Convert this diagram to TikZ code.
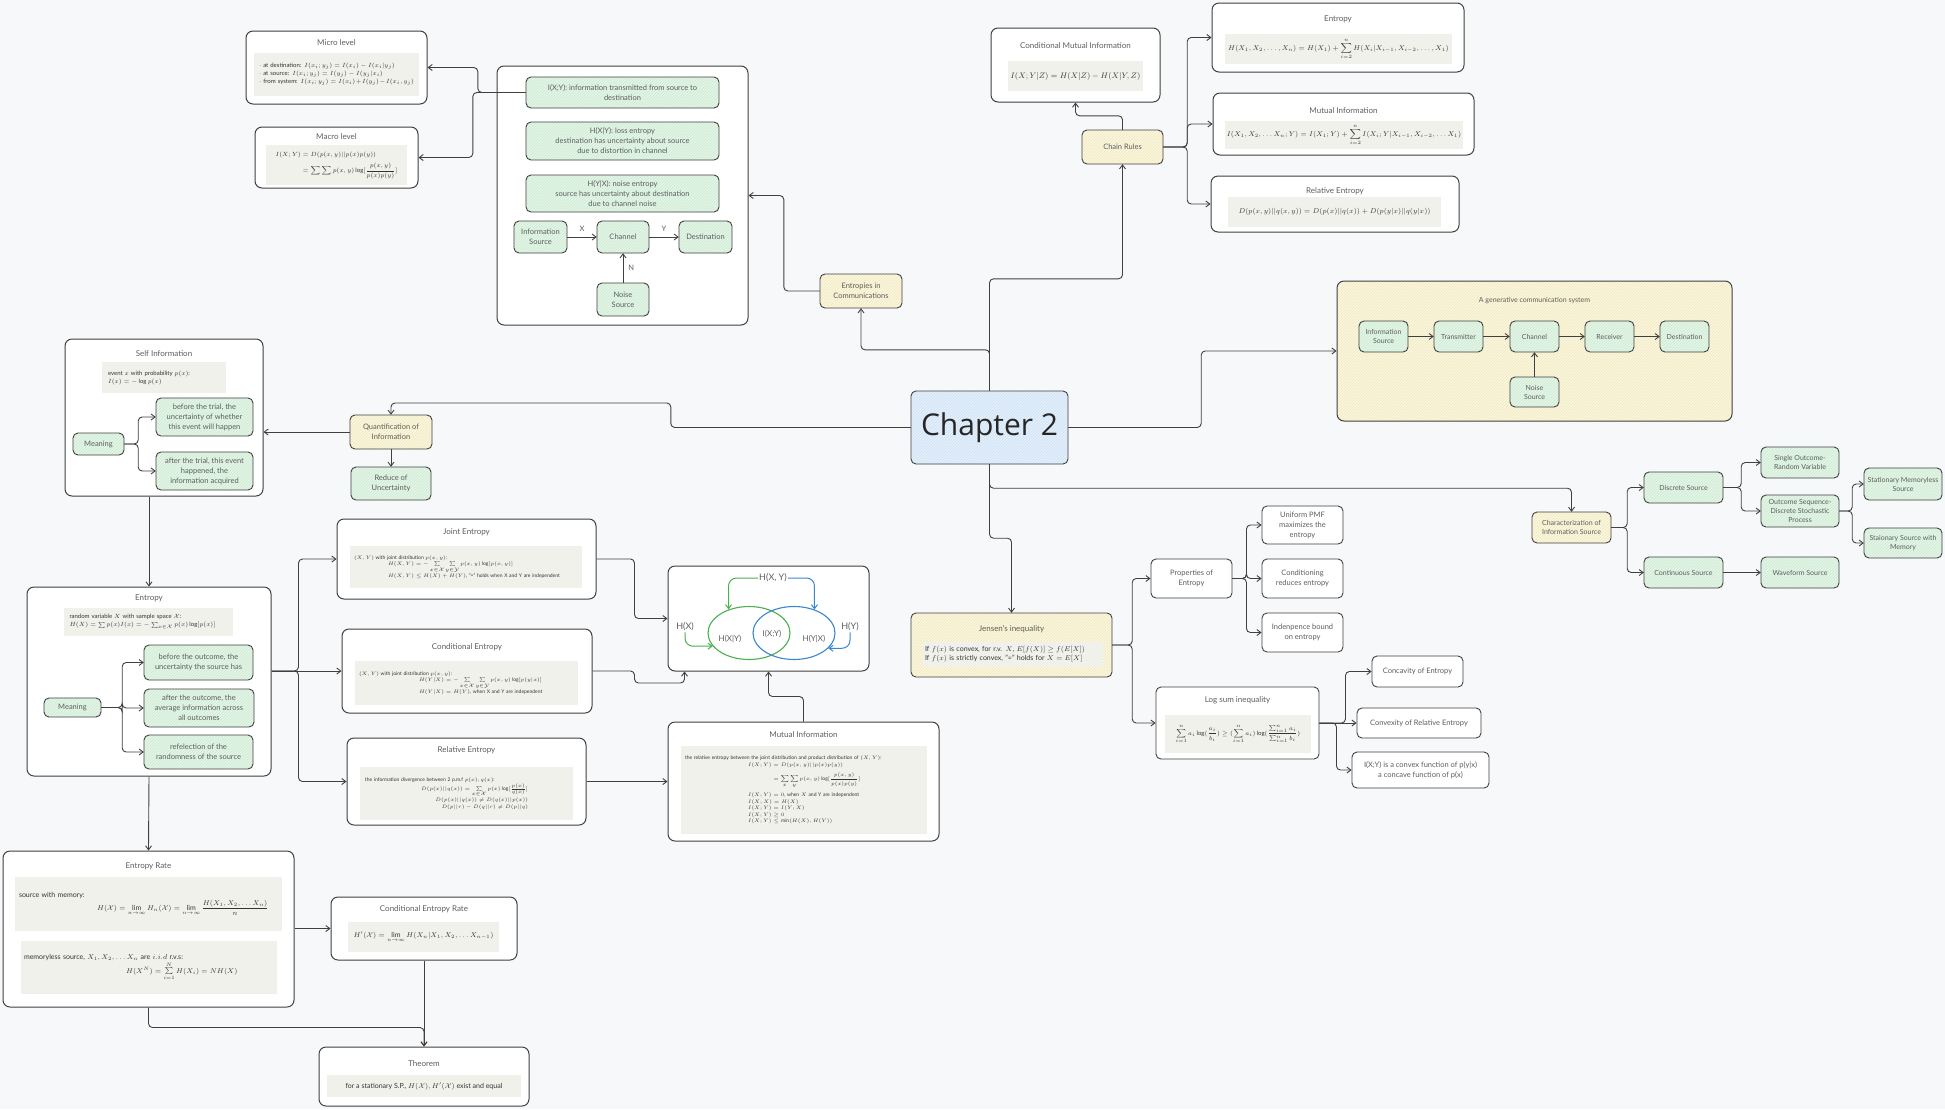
\documentclass[tikz,border=0pt]{standalone}
\usepackage{amsmath}
\usepackage{amssymb}
\usepackage{fontspec}
\setmainfont{Lato}
\newfontfamily\chapfont{Open Sans}
\usetikzlibrary{arrows.meta, patterns, shapes.geometric}

\definecolor{bgc}{HTML}{F7F8FA}
\definecolor{linec}{HTML}{404040}
\definecolor{textc}{HTML}{5E5E5E}
\definecolor{greenf}{HTML}{E4F5E7}
\definecolor{greenh}{HTML}{CBEAD0}
\definecolor{yellowf}{HTML}{FBF7E1}
\definecolor{yellowh}{HTML}{F0E6B8}
\definecolor{bluef}{HTML}{E4F0FB}
\definecolor{blueh}{HTML}{CCE1F6}
\definecolor{grayf}{HTML}{F1F1EC}
\definecolor{venng}{HTML}{4CAF50}
\definecolor{vennb}{HTML}{3A86D1}

\newcommand{\nodefont}{\fontsize{7.5}{10}\selectfont}
\newcommand{\smallnode}{\fontsize{7}{9}\selectfont}
\newcommand{\ttlfont}{\fontsize{8}{10}\selectfont}
\newcommand{\formfont}{\fontsize{6}{8}\selectfont}
\newcommand{\tinyfont}{\fontsize{5}{6.5}\selectfont}
\newcommand{\midfont}{\fontsize{7}{9}\selectfont}

\begin{document}
\begin{tikzpicture}[x=1pt, y=-1pt, >={Straight Barb[length=4pt, width=6pt]},
  sz/.style 2 args={minimum width=#1, minimum height=#2},
  nodebox/.style={rounded corners=5pt, text=textc, font=\nodefont, align=center, inner sep=1pt},
  outline/.style={postaction={draw=linec, line width=0.9pt}},
  leaf/.style={nodebox, fill=greenf, postaction={pattern=north east lines, pattern color=greenh}, outline},
  topic/.style={nodebox, fill=yellowf, postaction={pattern=north east lines, pattern color=yellowh}, outline},
  plain/.style={nodebox, draw=linec, line width=0.9pt, fill=white},
  panel/.style={draw=linec, line width=1pt, rounded corners=7pt, fill=white, inner sep=0pt},
  ttl/.style={text=textc, font=\ttlfont, inner sep=0pt},
  formula/.style={fill=grayf, text=black!80, font=\formfont, inner sep=0pt, align=left},
  elabel/.style={text=textc, font=\nodefont, inner sep=0pt},
  vlabel/.style={text=textc, font=\fontsize{9}{10}\selectfont, inner sep=1pt},
  conn/.style={->, draw=linec, line width=0.9pt, rounded corners=4pt}]

\fill[bgc] (0,0) rectangle (1945,1109);
\useasboundingbox (0,0) rectangle (1945,1109);

\node[panel, sz={181}{73}] (micro) at (336.5,67.5) {};
\node[ttl] (microttl) at (336.5,43) {Micro level};
\node[formula, sz={165}{43}, text width=155] (microf) at (336.5,74.5)
  {$\cdot$ at destination: $I(x_i;y_j)=I(x_i)-I(x_i|y_j)$\\
   $\cdot$ at source: $I(x_i;y_j)=I(y_j)-I(y_j|x_i)$\\
   $\cdot$ from system: $I(x_i;y_j)=I(x_i)+I(y_j)-I(x_i,y_j)$};
\node[panel, sz={163}{61}] (macro) at (336.5,157.5) {};
\node[ttl] (macrottl) at (336.5,137) {Macro level};
\node[formula, sz={141}{40}] (macrof) at (336.5,165)
  {$\begin{aligned}I(X;Y)&=D(p(x,y)||p(x)p(y))\\&=\sum\sum p(x,y)\log[\frac{p(x,y)}{p(x)p(y)}]\end{aligned}$};

\node[panel, sz={251}{259}] (comm) at (622.5,195.5) {};
\node[leaf, sz={193}{31}] (ixy) at (622.5,92.5) {I(X;Y): information transmitted from source to\\destination};
\node[leaf, sz={193}{38}] (hxy) at (622.5,141) {H(X|Y): loss entropy\\destination has uncertainty about source\\due to distortion in channel};
\node[leaf, sz={193}{37}] (hyx) at (622.5,193.5) {H(Y|X): noise entropy\\source has uncertainty about destination\\due to channel noise};
\node[leaf, sz={53}{32}] (src1) at (540.5,237) {Information\\Source};
\node[leaf, sz={52}{32}] (chan1) at (623,237) {Channel};
\node[leaf, sz={53}{32}] (dest1) at (705.5,237) {Destination};
\node[leaf, sz={52}{33}] (noise1) at (623,299.5) {Noise\\Source};
\node[topic, sz={82}{34}] (entcomm) at (861,291) {Entropies in\\Communications};

\node[panel, sz={169}{74}] (cmi) at (1075.5,65) {};
\node[ttl] (cmittl) at (1075.5,46) {Conditional Mutual Information};
\node[formula, sz={135}{30}, font=\fontsize{8}{10}\selectfont] (cmif) at (1075.5,76) {$I(X;Y|Z)=H(X|Z)-H(X|Y,Z)$};
\node[topic, sz={81}{34}] (chain) at (1122.5,147) {Chain Rules};
\node[panel, sz={252}{69}] (entchain) at (1338,37.5) {};
\node[ttl] (entchainttl) at (1338,19) {Entropy};
\node[formula, sz={227}{30}, font=\midfont] (entchainf) at (1338.5,49)
  {$\displaystyle H(X_1,X_2,\dots,X_n)=H(X_1)+\sum_{i=2}^{n}H(X_i|X_{i-1},X_{i-2},\dots,X_1)$};
\node[panel, sz={261}{62}] (michain) at (1343.5,124) {};
\node[ttl] (michainttl) at (1343.5,111) {Mutual Information};
\node[formula, sz={238}{28}, font=\midfont] (michainf) at (1344,135)
  {$\displaystyle I(X_1,X_2,\dots X_n;Y)=I(X_1;Y)+\sum_{i=2}^{n}I(X_i;Y|X_{i-1},X_{i-2},\dots X_1)$};
\node[panel, sz={248}{56}] (rechain) at (1335,204) {};
\node[ttl] (rechainttl) at (1335,191) {Relative Entropy};
\node[formula, sz={213}{30}, font=\midfont] (rechainf) at (1334.5,212)
  {$D(p(x,y)||q(x,y))=D(p(x)||q(x))+D(p(y|x)||q(y|x))$};

\node[nodebox, fill=bluef, postaction={pattern=north east lines, pattern color=blueh}, outline, sz={157}{73}, text=black!85, font=\chapfont\fontsize{30}{34}\selectfont] (chap) at (989.5,427.5) {Chapter 2};

\node[panel, draw=none, fill=yellowf, postaction={pattern=north east lines, pattern color=yellowh}, postaction={draw=linec, line width=1pt}, sz={395}{140}] (gen) at (1534.5,351) {};
\node[ttl, font=\smallnode] (genttl) at (1534.5,301) {A generative communication system};
\node[leaf, sz={49}{31}, font=\smallnode] (gsrc) at (1383.5,336.5) {Information\\Source};
\node[leaf, sz={49}{31}, font=\smallnode] (gtrans) at (1458.5,336.5) {Transmitter};
\node[leaf, sz={49}{31}, font=\smallnode] (gchan) at (1534.5,336.5) {Channel};
\node[leaf, sz={49}{31}, font=\smallnode] (grecv) at (1609.5,336.5) {Receiver};
\node[leaf, sz={49}{31}, font=\smallnode] (gdest) at (1684.5,336.5) {Destination};
\node[leaf, sz={49}{30}, font=\smallnode] (gnoise) at (1534.5,392) {Noise\\Source};

\node[topic, sz={82}{34}] (quant) at (391,432) {Quantification of\\Information};
\node[leaf, sz={80}{33}] (reduce) at (391,483.5) {Reduce of\\Uncertainty};
\node[panel, sz={198}{157}] (selfinfo) at (164,417.5) {};
\node[ttl] (selfttl) at (164,354) {Self Information};
\node[formula, sz={124}{31}, text width=112] (selff) at (164,377.5)
  {event $x$ with probability $p(x)$:\\$I(x)=-\log p(x)$};
\node[leaf, sz={51}{22}] (meaning1) at (98.5,444) {Meaning};
\node[leaf, sz={97}{38}] (before1) at (204.5,417) {before the trial, the\\uncertainty of whether\\this event will happen};
\node[leaf, sz={97}{38}] (after1) at (204.5,471) {after the trial, this event\\happened, the\\information acquired};

\node[panel, sz={244}{189}] (entropy) at (149,681.5) {};
\node[ttl] (entttl) at (149,598) {Entropy};
\node[formula, sz={169}{28}, text width=158] (entf) at (148.5,622)
  {random variable $X$ with sample space $\mathcal{X}$:\\$H(X)=\sum p(x)I(x)=-\sum_{x\in\mathcal{X}}p(x)\log[p(x)]$};
\node[leaf, sz={57}{19}] (meaning2) at (72.5,707.5) {Meaning};
\node[leaf, sz={109}{35}] (bef2) at (198.5,662.5) {before the outcome, the\\uncertainty the source has};
\node[leaf, sz={110}{38}] (aft2) at (199,708) {after the outcome, the\\average information across\\all outcomes};
\node[leaf, sz={109}{34}] (refl) at (198.5,752) {refelection of the\\randomness of the source};

\node[panel, sz={259}{80}] (joint) at (466.5,559) {};
\node[ttl] (jointttl) at (466.5,532) {Joint Entropy};
\node[formula, font=\tinyfont, sz={232}{42}, text width=224] (jointf) at (466,567)
  {$(X,Y)$ with joint distribution $p(x,y)$:\par
   {\leftskip=34pt $H(X,Y)=-\sum\limits_{x\in\mathcal{X}}\sum\limits_{y\in\mathcal{Y}}p(x,y)\log[p(x,y)]$\\
   $H(X,Y)\le H(X)+H(Y)$, "=" holds when X and Y are independent\par}};
\node[panel, sz={250}{84}] (condent) at (467,671) {};
\node[ttl] (condttl) at (467,647) {Conditional Entropy};
\node[formula, font=\tinyfont, sz={223}{44}, text width=215] (condf) at (466.5,683)
  {$(X,Y)$ with joint distribution $p(x,y)$:\par
   {\leftskip=60pt $H(Y|X)=-\sum\limits_{x\in\mathcal{X}}\sum\limits_{y\in\mathcal{Y}}p(x,y)\log[p(y|x)]$\\
   $H(Y|X)=H(Y)$, when X and Y are independent\par}};
\node[panel, sz={239}{87}] (relent) at (466.5,781.5) {};
\node[ttl] (relttl) at (466.5,750) {Relative Entropy};
\node[formula, font=\tinyfont, sz={213}{53}, text width=203] (relf) at (466.5,793.5)
  {the information divergence between 2 p.m.f $p(x)$, $q(x)$:\par
   {\raggedleft\rightskip=40pt $D(p(x)||q(x))=\sum\limits_{x\in\mathcal{X}}p(x)\log[\frac{p(x)}{q(x)}]$\\
   $D(p(x)||q(x))\neq D(q(x)||p(x))$\\
   $D(p||r)-D(q||r)\neq D(p||q)$\par}};

\node[panel, sz={201}{105}] (venn) at (768.5,618.5) {};
\node[ellipse, draw=venng, line width=1.1pt, sz={82}{53}, inner sep=0pt] (setx) at (749,633) {};
\node[ellipse, draw=vennb, line width=1.1pt, sz={82}{53}, inner sep=0pt] (sety) at (794,633) {};
\node[vlabel] (hxyt) at (773,578) {H(X, Y)};
\node[vlabel] (hx) at (685,627) {H(X)};
\node[vlabel] (hy) at (850,627) {H(Y)};
\node[vlabel, font=\ttlfont] (hxgy) at (730,639) {H(X|Y)};
\node[vlabel, font=\ttlfont] (ixyv) at (772,634) {I(X;Y)};
\node[vlabel, font=\ttlfont] (hygx) at (814,639) {H(Y|X)};
\draw[->, venng, line width=1pt, rounded corners=8pt] (hxyt.west) -| (setx.131);
\draw[->, vennb, line width=1pt, rounded corners=8pt] (hxyt.east) -| (sety.49);
\draw[->, venng, line width=1pt, rounded corners=8pt] (hx.south) |- (setx.200);
\draw[->, vennb, line width=1pt, rounded corners=8pt] (hy.south) |- (sety.-24);

\node[panel, sz={271}{119}] (mi) at (803.5,781.5) {};
\node[ttl] (mittl) at (803.5,735) {Mutual Information};
\node[formula, font=\tinyfont, sz={246}{88}, text width=238] (mif) at (804,790)
  {the relative entropy between the joint distribution and product distribution of $(X,Y)$:\par
   {\leftskip=63pt $\begin{aligned}I(X;Y)&=D(p(x,y)||p(x)p(y))\\&=\sum_x\sum_y p(x,y)\log[\frac{p(x,y)}{p(x)p(y)}]\end{aligned}$\par\vspace{4pt}
   $I(X;Y)=0$, when $X$ and Y are independent\\
   $I(X;X)=H(X)$\\
   $I(X;Y)=I(Y;X)$\\
   $I(X;Y)\ge 0$\\
   $I(X;Y)\le\min(H(X),H(Y))$\par}};

\node[topic, sz={201}{64}] (jensen) at (1011.5,645) {};
\node[ttl] (jensenttl) at (1011.5,629) {Jensen's inequality};
\node[formula, font=\midfont, sz={180}{25}, text width=176] (jensenf) at (1013,654.5)
  {If $f(x)$ is convex, for r.v. $X$, $E[f(X)]\geq f(E[X])$\\If $f(x)$ is strictly convex, "=" holds for $X=E[X]$};
\node[plain, sz={81}{39}] (prop) at (1191.5,578.5) {Properties of\\Entropy};
\node[plain, sz={81}{38}] (unif) at (1302.5,525) {Uniform PMF\\maximizes the\\entropy};
\node[plain, sz={81}{39}] (condred) at (1302.5,578.5) {Conditioning\\reduces entropy};
\node[plain, sz={81}{39}] (indep) at (1302.5,632.5) {Indenpence bound\\on entropy};
\node[plain, sz={163}{72}] (logsum) at (1237.5,723) {};
\node[ttl] (logsumttl) at (1237.5,700) {Log sum inequality};
\node[formula, sz={146}{38}] (logsumf) at (1238,734)
  {$\displaystyle\sum_{i=1}^{n}a_i\log(\frac{a_i}{b_i})\ge(\sum_{i=1}^{n}a_i)\log(\frac{\sum_{i=1}^{n}a_i}{\sum_{i=1}^{n}b_i})$};
\node[plain, sz={91}{31}] (concav) at (1417.5,671.5) {Concavity of Entropy};
\node[plain, sz={124}{30}] (convex) at (1419,723) {Convexity of Relative Entropy};
\node[plain, sz={137}{36}] (ixyconv) at (1420.5,770) {I(X;Y) is a convex function of p(y|x)\\a concave function of p(x)};

\node[topic, sz={79}{31}, font=\smallnode] (charac) at (1571.5,527.5) {Characterization of\\Information Source};
\node[leaf, sz={79}{31}, font=\smallnode] (discrete) at (1683.5,487.5) {Discrete Source};
\node[leaf, sz={79}{31}, font=\smallnode] (contin) at (1683.5,572.5) {Continuous Source};
\node[leaf, sz={78}{31}, font=\smallnode] (single) at (1800,462.5) {Single Outcome-\\Random Variable};
\node[leaf, sz={78}{32}, font=\smallnode] (outseq) at (1800,511) {Outcome Sequence-\\Discrete Stochastic\\Process};
\node[leaf, sz={78}{31}, font=\smallnode] (wave) at (1800,572.5) {Waveform Source};
\node[leaf, sz={78}{32}, font=\smallnode] (statml) at (1903,484) {Stationary Memoryless\\Source};
\node[leaf, sz={78}{30}, font=\smallnode] (statmem) at (1903,543) {Staionary Source with\\Memory};

\node[panel, sz={291}{156}] (entrate) at (148.5,929) {};
\node[ttl] (entratettl) at (148.5,866) {Entropy Rate};
\node[formula, font=\midfont, sz={267}{54}, text width=259] (entratef) at (148.5,904)
  {source with memory:\par
   {\leftskip=78pt $H(\mathcal{X})=\lim\limits_{n\to\infty}H_n(\mathcal{X})=\lim\limits_{n\to\infty}\dfrac{H(X_1,X_2,\dots X_n)}{n}$\par}};
\node[formula, font=\midfont, sz={256}{53}, text width=250] (memlessf) at (149,967.5)
  {memoryless source, $X_1,X_2,\dots X_n$ are $i.i.d$ r.v.s:\par
   {\leftskip=102pt $H(X^N)=\sum\limits_{i=1}^{N}H(X_i)=NH(X)$\par}};
\node[panel, sz={186}{63}] (condrate) at (424,928.5) {};
\node[ttl] (condratettl) at (424,909) {Conditional Entropy Rate};
\node[formula, font=\midfont, sz={151}{30}] (condratef) at (423.5,937)
  {$H'(\mathcal{X})=\lim\limits_{n\to\infty}H(X_n|X_1,X_2,\dots X_{n-1})$};
\node[panel, sz={210}{59}] (theorem) at (424,1076.5) {};
\node[ttl] (theoremttl) at (424,1064) {Theorem};
\node[formula, font=\midfont, sz={194}{22}] (theoremf) at (424,1086)
  {for a stationary S.P., $H(\mathcal{X}),H'(\mathcal{X})$ exist and equal};

\draw[conn] (ixy.west) -- ++(-48,0) |- (micro.east);
\draw[conn] (ixy.west) -- ++(-53,0) |- (macro.east);
\path[conn] (src1) edge node[elabel, above=5pt] {X} (chan1)
            (chan1) edge node[elabel, above=5pt] {Y} (dest1)
            (noise1) edge node[elabel, right=5pt] {N} (chan1);
\draw[conn] (entcomm.west) -- ++(-36,0) |- (comm.east);
\draw[conn] (chap.north) -- ++(0,-41) -| (entcomm.south);
\draw[conn] (chap.north) -- ++(0,-112) -| (chain.south);
\draw[conn] (chain.north) -- ++(0,-14) -| (cmi.south);
\draw[conn] (chain.east) -- ++(24,0) |- (entchain.west);
\draw[conn] (chain.east) -- ++(24,0) |- (michain.west);
\draw[conn] (chain.east) -- ++(24,0) |- (rechain.west);
\draw[conn] (chap.east) -- ++(133,0) |- (gen.west);
\path[conn] (gsrc) edge (gtrans) (gtrans) edge (gchan) (gchan) edge (grecv)
            (grecv) edge (gdest) (gnoise) edge (gchan);
\draw[conn] (chap.west) -- ++(-240,0) -- ++(0,-24.5) -| (quant.north);
\draw[conn] (quant.west) -- (quant.west -| selfinfo.east);
\draw[conn] (quant.south) -- (reduce.north);
\draw[conn] (meaning1.east) -- ++(14,0) |- (before1.west);
\draw[conn] (meaning1.east) -- ++(14,0) |- (after1.west);
\draw[conn] (selfinfo.south -| entropy.north) -- (entropy.north);
\draw[conn] (meaning2.east) -- ++(21,0) |- (bef2.west);
\draw[conn] (meaning2.east) -- ++(21,0) |- (aft2.west);
\draw[conn] (meaning2.east) -- ++(21,0) |- (refl.west);
\draw[conn] (entropy.east |- condent.west) -- (condent.west);
\draw[conn] (entropy.east |- condent.west) -- ++(27,0) |- (joint.west);
\draw[conn] (entropy.east |- condent.west) -- ++(27,0) |- (relent.west);
\draw[conn] (joint.east) -- ++(38,0) |- (venn.west);
\draw[conn] (condent.east) -- ++(42,0) -- ++(0,12) -| ([xshift=17pt]venn.south west);
\draw[conn] (relent.east) -- (relent.east -| mi.west);
\draw[conn] (mi.north) -- ++(0,-25) -| (venn.south);
\draw[conn] (entropy.south) -- (entrate.north);
\draw[conn] (entrate.east |- condrate.west) -- (condrate.west);
\draw[conn] (condrate.south) -- (theorem.north);
\draw[conn] (entrate.south) -- ++(0,20) -| (theorem.north);
\draw[conn] (chap.south) -- ++(0,74) -| (jensen.north);
\draw[conn] (chap.south) -- ++(0,24) -| (charac.north);
\draw[conn] (jensen.east) -- ++(20,0) |- (prop.west);
\draw[conn] (jensen.east) -- ++(20,0) |- (logsum.west);
\draw[conn] (prop.east) -- ++(14,0) |- (unif.west);
\draw[conn] (prop.east) -- ++(14,0) |- (condred.west);
\draw[conn] (prop.east) -- ++(14,0) |- (indep.west);
\draw[conn] (logsum.east) -- ++(26,0) |- (concav.west);
\draw[conn] (logsum.east) -- (logsum.east -| convex.west);
\draw[conn] (logsum.east) -- ++(17,0) |- (ixyconv.west);
\draw[conn] (charac.east) -- ++(16,0) |- (discrete.west);
\draw[conn] (charac.east) -- ++(16,0) |- (contin.west);
\draw[conn] (discrete.east) -- ++(18,0) |- (single.west);
\draw[conn] (discrete.east) -- ++(18,0) |- (outseq.west);
\draw[conn] (contin.east) -- (wave.west);
\draw[conn] (outseq.east) -- ++(13,0) |- (statml.west);
\draw[conn] (outseq.east) -- ++(13,0) |- (statmem.west);
\end{tikzpicture}
\end{document}
